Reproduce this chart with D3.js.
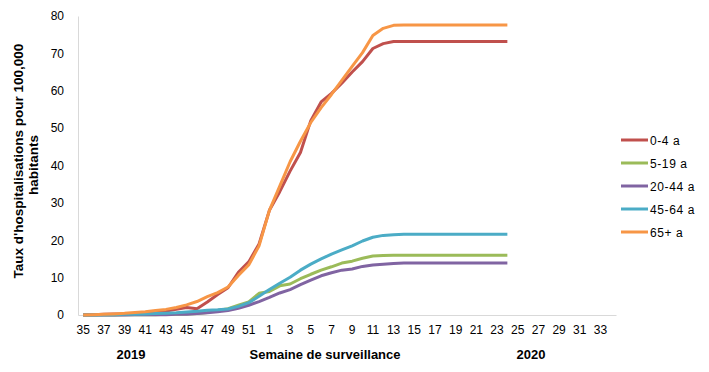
<!DOCTYPE html>
<html>
<head>
  <meta charset="utf-8">
  <style>
    body {
      margin: 0;
      background: white;
    }
    text {
      font-family: "Liberation Sans", Arial, sans-serif;
    }
  </style>
</head>
<body>
  <div id="chart"></div>

  <script src="https://d3js.org/d3.v7.min.js"></script>
  <script>
  // surveillance weeks, 2019 (35-52) then 2020 (1-34)
  const weeks = [35, 36, 37, 38, 39, 40, 41, 42, 43, 44, 45, 46, 47, 48, 49, 50, 51, 52,
                 1, 2, 3, 4, 5, 6, 7, 8, 9, 10, 11, 12, 13, 14, 15, 16, 17, 18, 19, 20,
                 21, 22, 23, 24, 25, 26, 27, 28, 29, 30, 31, 32, 33, 34];
  const tickWeeks = [35, 37, 39, 41, 43, 45, 47, 49, 51, 1, 3, 5, 7, 9, 11, 13, 15, 17,
                     19, 21, 23, 25, 27, 29, 31, 33];
  const yTicks = [0, 10, 20, 30, 40, 50, 60, 70, 80];

  const seriesNames = ["0-4 a", "5-19 a", "20-44 a", "45-64 a", "65+ a"];
  const seriesColors = ["#C0504D", "#9BBB59", "#8064A2", "#4BACC6", "#F79646"];

  // cumulative rates, weeks 35 (2019) to 24 (2020)
  const age0to4 = [0, 0.1, 0.2, 0.3, 0.3, 0.4, 0.6, 0.8, 1.05, 1.5, 2.0, 1.7, 3.5, 5.5, 7.3, 11.4, 14.2, 19.0,
                   28.0, 33.0, 38.5, 43.5, 52.0, 57.0, 59.3, 62.0, 65.0, 67.8, 71.3, 72.6, 73.2, 73.2,
                   73.2, 73.2, 73.2, 73.2, 73.2, 73.2, 73.2, 73.2, 73.2, 73.2];
  const age5to19 = [0, 0, 0, 0, 0.1, 0.1, 0.1, 0.1, 0.2, 0.2, 0.3, 0.4, 0.7, 1.2, 1.7, 2.6, 3.5, 5.8,
                    6.3, 7.8, 8.3, 9.7, 10.9, 12.0, 12.9, 13.9, 14.4, 15.2, 15.8, 15.9, 16.0, 16.0,
                    16.0, 16.0, 16.0, 16.0, 16.0, 16.0, 16.0, 16.0, 16.0, 16.0];
  const age20to44 = [0, 0, 0, 0, 0, 0.1, 0.1, 0.1, 0.1, 0.2, 0.2, 0.4, 0.6, 0.9, 1.2, 1.8, 2.6, 3.6,
                     4.7, 5.9, 6.8, 8.1, 9.3, 10.5, 11.3, 12.0, 12.3, 13.0, 13.4, 13.6, 13.8, 13.9,
                     13.9, 13.9, 13.9, 13.9, 13.9, 13.9, 13.9, 13.9, 13.9, 13.9];
  const age45to64 = [0, 0, 0.1, 0.1, 0.2, 0.2, 0.3, 0.4, 0.5, 0.6, 0.8, 1.0, 1.3, 1.4, 1.6, 2.3, 3.3, 5.0,
                     6.8, 8.5, 10.1, 12.0, 13.6, 15.0, 16.3, 17.4, 18.5, 19.8, 20.8, 21.3, 21.5, 21.6,
                     21.6, 21.6, 21.6, 21.6, 21.6, 21.6, 21.6, 21.6, 21.6, 21.6];
  const age65plus = [0, 0.1, 0.2, 0.3, 0.45, 0.7, 0.9, 1.2, 1.5, 2.0, 2.7, 3.6, 4.9, 6.0, 7.5, 10.6, 13.4, 18.5,
                     28.0, 34.5, 41.0, 46.5, 51.5, 55.5, 59.0, 62.8, 66.5, 70.2, 74.8, 76.7, 77.5, 77.6,
                     77.6, 77.6, 77.6, 77.6, 77.6, 77.6, 77.6, 77.6, 77.6, 77.6];

  const seriesValues = [age0to4, age5to19, age20to44, age45to64, age65plus];

  const W = 709, H = 372;
  const margin = {top: 16, right: 93, bottom: 57, left: 78};
  const width = W - margin.left - margin.right,
        height = H - margin.top - margin.bottom;

  const svg = d3.select("#chart")
    .append("svg")
      .attr("width", W)
      .attr("height", H);

  const g = svg.append("g")
      .attr("transform", "translate(" + margin.left + "," + margin.top + ")");

  // index-based band so 2019 and 2020 weeks stay distinct
  const x = d3.scaleBand()
    .domain(d3.range(weeks.length))
    .range([0, width]);

  const y = d3.scaleLinear()
    .domain([0, 80])
    .range([height, 0]);

  const cx = i => x(i) + x.bandwidth() / 2;

  // axes
  const xAxis = g.append("g")
    .attr("transform", "translate(0," + height + ")")
    .call(d3.axisBottom(x)
      .tickValues(d3.range(weeks.length).filter(i => tickWeeks.includes(weeks[i]) && !(i > 17 && weeks[i] >= 35)))
      .tickFormat(i => weeks[i])
      .tickSize(0)
      .tickPadding(10));
  xAxis.select(".domain").attr("stroke", "#d9d9d9");
  xAxis.selectAll("text")
    .attr("font-size", "12px")
    .attr("fill", "#000")
    .style("font-family", "'Liberation Sans', Arial, sans-serif");

  const yAxis = g.append("g")
    .call(d3.axisLeft(y)
      .tickValues(yTicks)
      .tickSize(0)
      .tickPadding(14));
  yAxis.select(".domain").attr("stroke", "#d9d9d9");
  yAxis.selectAll("text")
    .attr("font-size", "12px")
    .attr("fill", "#000")
    .style("font-family", "'Liberation Sans', Arial, sans-serif");

  // lines
  const line = d3.line()
    .x((d, i) => cx(i))
    .y(d => y(d));

  seriesValues.forEach((vals, k) => {
    g.append("path")
      .datum(vals)
      .attr("fill", "none")
      .attr("stroke", seriesColors[k])
      .attr("stroke-width", 3)
      .attr("stroke-linejoin", "round")
      .attr("d", line);
  });

  // axis titles
  svg.append("text")
    .attr("transform", "translate(23,161) rotate(-90)")
    .attr("text-anchor", "middle")
    .attr("font-size", "13.5px")
    .attr("font-weight", "bold")
    .text("Taux d'hospitalisations  pour 100,000");
  svg.append("text")
    .attr("transform", "translate(38,165) rotate(-90)")
    .attr("text-anchor", "middle")
    .attr("font-size", "13.5px")
    .attr("font-weight", "bold")
    .text("habitants");

  svg.append("text")
    .attr("x", 131).attr("y", 359)
    .attr("text-anchor", "middle")
    .attr("font-size", "13px")
    .attr("font-weight", "bold")
    .text("2019");
  svg.append("text")
    .attr("x", 325).attr("y", 359)
    .attr("text-anchor", "middle")
    .attr("font-size", "13px")
    .attr("font-weight", "bold")
    .text("Semaine de surveillance");
  svg.append("text")
    .attr("x", 531).attr("y", 359)
    .attr("text-anchor", "middle")
    .attr("font-size", "13px")
    .attr("font-weight", "bold")
    .text("2020");

  // legend
  const legend = svg.append("g")
    .attr("transform", "translate(621,140)");
  seriesNames.forEach((name, k) => {
    const row = legend.append("g").attr("transform", "translate(0," + (k * 23) + ")");
    row.append("line")
      .attr("x1", 0).attr("x2", 27)
      .attr("stroke", seriesColors[k])
      .attr("stroke-width", 3);
    row.append("text")
      .attr("x", 29).attr("y", 4.5)
      .attr("font-size", "12px")
      .attr("letter-spacing", "0.6px")
      .text(name);
  });
  </script>
</body>
</html>
